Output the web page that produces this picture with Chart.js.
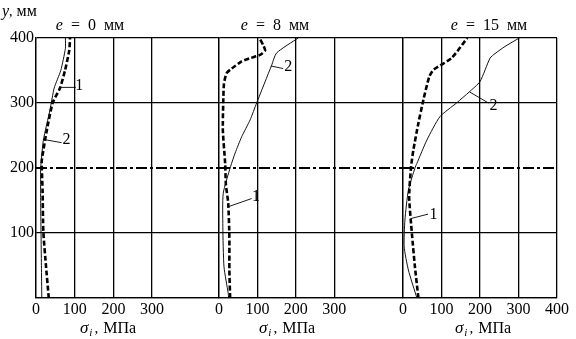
<!DOCTYPE html>
<html>
<head>
<meta charset="utf-8">
<script src="https://cdn.jsdelivr.net/npm/chart.js@4"></script>
<style>
  body { margin: 0; background: #fff; }
  #wrap { position: relative; width: 576px; height: 339px; }
  canvas { position: absolute; left: 0; top: 0; }
</style>
</head>
<body>
<div id="wrap">
  <canvas id="c1" width="576" height="339"></canvas>
  <canvas id="c2" width="576" height="339"></canvas>
  <canvas id="c3" width="576" height="339"></canvas>
</div>
<script>
// axis ticks
const yTicks = [0, 100, 200, 300, 400];
const xTicksShort = [0, 100, 200, 300];
const xTicksLong = [0, 100, 200, 300, 400];
const cutLevel = 200; // dash-dot line, y = 200 mm

// e = 0 mm   (y in mm, sigma in MPa)
const depthE0c1 = [0, 48, 102, 166, 200, 212, 258, 300, 323, 350, 381, 400];
const stressE0c1 = [33, 26, 19, 17, 15, 15, 28, 43, 62, 75, 86, 88];
const depthE0c2 = [0, 50, 100, 150, 200, 207, 243, 289, 323, 350, 384, 400];
const stressE0c2 = [15, 14, 13, 12, 12, 13, 19, 36, 47, 64, 76, 76];

// e = 8 mm
const depthE8c1 = [0, 43, 94, 146, 174, 207, 258, 300, 330, 346, 353, 364, 369, 374, 381, 389, 400];
const stressE8c1 = [29, 27, 27, 24, 18, 16, 10, 11, 13, 20, 33, 59, 81, 107, 120, 115, 105];
const depthE8c2 = [0, 7, 48, 110, 161, 202, 223, 248, 274, 300, 358, 377, 400];
const stressE8c2 = [25, 24, 13, 10, 11, 30, 42, 59, 81, 98, 137, 150, 206];

// e = 15 mm
const depthE15c1 = [0, 48, 100, 156, 202, 228, 269, 305, 340, 351, 369, 400];
const stressE15c1 = [40, 31, 23, 16, 21, 27, 40, 53, 68, 79, 126, 167];
const depthE15c2 = [0, 43, 79, 120, 166, 200, 207, 243, 279, 300, 317, 333, 369, 376, 387, 400];
const stressE15c2 = [36, 14, 3, 5, 14, 31, 36, 62, 96, 139, 172, 200, 226, 239, 265, 302];

const serif = '"Liberation Serif", "DejaVu Serif", serif';

function pts(xs, ys) {
  return xs.map((v, i) => ({ x: v, y: ys[i] }));
}

// draws a list of [text, font, extra advance, dy] runs one after another
function runs(ctx, list, x, y, gap) {
  let cx = x;
  list.forEach(r => {
    ctx.font = r[1];
    ctx.fillText(r[0], cx, y + (r[3] || 0));
    cx += ctx.measureText(r[0]).width + (r[2] || 0) + gap;
  });
  return cx;
}
function runsWidth(ctx, list, gap) {
  let w = 0;
  list.forEach((r, i) => {
    ctx.font = r[1];
    w += ctx.measureText(r[0]).width + (i ? gap : 0) + (i < list.length - 1 ? (r[2] || 0) : 0);
  });
  return w;
}

const panelText = {
  id: 'panelText',
  afterDraw(chart, args, o) {
    const { ctx, scales: { x, y } } = chart;
    ctx.save();
    ctx.fillStyle = '#000';
    ctx.strokeStyle = '#000';
    ctx.textAlign = 'left';
    ctx.textBaseline = 'alphabetic';

    // panel title  "e = .. мм"
    const t = [['e', 'italic 16px ' + serif], ['=', '16px ' + serif], [o.eVal, '16px ' + serif], ['мм', '16px ' + serif]];
    const tw = runsWidth(ctx, t, 8);
    runs(ctx, t, o.titleX - tw / 2, 30, 8);

    // x axis title  "σi , МПа"
    const a = [['σ', 'italic 17px ' + serif, 1], ['i', 'italic 11px ' + serif, 2, 3], [',', '15px ' + serif, 5], ['МПа', '16px ' + serif]];
    const aw = runsWidth(ctx, a, 0);
    runs(ctx, a, o.axisX - aw / 2, 333, 0);

    if (o.yTitle) {
      runs(ctx, [['y', 'italic 16px ' + serif, 0], [',', '14px ' + serif, 4], ['мм', '16px ' + serif]], 2, 16, 0);
    }

    // curve numbers with leader lines
    o.notes.forEach(n => {
      ctx.lineWidth = 0.9;
      ctx.beginPath();
      ctx.moveTo(x.getPixelForValue(n.from[0]), y.getPixelForValue(n.from[1]));
      ctx.lineTo(x.getPixelForValue(n.to[0]), y.getPixelForValue(n.to[1]));
      ctx.stroke();
      ctx.font = '16px ' + serif;
      ctx.textAlign = 'center';
      ctx.textBaseline = 'middle';
      ctx.fillText(n.text, x.getPixelForValue(n.at[0]), y.getPixelForValue(n.at[1]));
      ctx.textAlign = 'left';
      ctx.textBaseline = 'alphabetic';
    });
    ctx.restore();
  }
};

function makePanel(id, p) {
  const showY = p.yTitle;
  new Chart(document.getElementById(id), {
    type: 'line',
    data: {
      datasets: [
        {
          data: [{ x: 0, y: cutLevel }, { x: p.xMax, y: cutLevel }],
          borderColor: '#000', borderWidth: 2.2, borderDash: [11, 3, 3, 3],
          pointRadius: 0
        },
        {
          label: '1',
          data: p.c1,
          borderColor: '#000', borderWidth: 2.6, borderDash: [5, 2.5],
          pointRadius: 0, tension: 0.2
        },
        {
          label: '2',
          data: p.c2,
          borderColor: '#111', borderWidth: 1,
          pointRadius: 0, tension: 0.2
        }
      ]
    },
    options: {
      responsive: false,
      animation: false,
      events: [],
      layout: { padding: { left: p.left, right: 576 - p.right, top: 38, bottom: 0 } },
      plugins: {
        legend: { display: false },
        tooltip: { enabled: false },
        panelText: { eVal: p.eVal, titleX: p.titleX, axisX: p.axisX, yTitle: p.yTitle, notes: p.notes }
      },
      scales: {
        x: {
          type: 'linear',
          min: 0, max: p.xMax,
          afterBuildTicks: s => { s.ticks = p.xTicks.map(v => ({ value: v })); },
          afterFit: s => { s.height = 41; },
          grid: { color: '#000', lineWidth: 1.3, drawTicks: false },
          border: { display: true, color: '#000', width: 1.3 },
          ticks: { color: '#000', font: { family: serif, size: 16 }, padding: 2, maxRotation: 0, autoSkip: false }
        },
        y: {
          type: 'linear',
          min: 0, max: 400,
          afterBuildTicks: s => { s.ticks = yTicks.map(v => ({ value: v })); },
          afterFit: s => { s.width = showY ? 36 : 0; },
          grid: {
            color: c => (c.tick && c.tick.value === cutLevel ? 'rgba(0,0,0,0)' : '#000'),
            lineWidth: 1.3, drawTicks: false
          },
          border: { display: true, color: '#000', width: 1.3 },
          ticks: {
            display: showY,
            color: '#000', font: { family: serif, size: 16 }, padding: 2,
            callback: v => (v === 0 ? '' : v)
          }
        }
      }
    },
    plugins: [panelText]
  });
}

makePanel('c1', {
  left: 0, right: 219, xMax: 473, xTicks: xTicksShort, yTitle: true,
  eVal: '0', titleX: 90, axisX: 108,
  c1: pts(stressE0c1, depthE0c1), c2: pts(stressE0c2, depthE0c2),
  notes: [
    { text: '1', at: [112, 326], from: [64, 324], to: [103, 324] },
    { text: '2', at: [79, 243], from: [19, 244], to: [66, 239] }
  ]
});
makePanel('c2', {
  left: 219, right: 403, xMax: 479, xTicks: xTicksShort, yTitle: false,
  eVal: '8', titleX: 275, axisX: 287,
  c1: pts(stressE8c1, depthE8c1), c2: pts(stressE8c2, depthE8c2),
  notes: [
    { text: '2', at: [180, 356], from: [135, 357], to: [167, 353] },
    { text: '1', at: [96, 156], from: [22, 140], to: [85, 153] }
  ]
});
makePanel('c3', {
  left: 403, right: 557, xMax: 400, xTicks: xTicksLong, yTitle: false,
  eVal: '15', titleX: 489, axisX: 483,
  c1: pts(stressE15c1, depthE15c1), c2: pts(stressE15c2, depthE15c2),
  notes: [
    { text: '2', at: [235, 295], from: [173, 317], to: [222, 300] },
    { text: '1', at: [79, 128], from: [19, 122], to: [65, 129] }
  ]
});
</script>
</body>
</html>
